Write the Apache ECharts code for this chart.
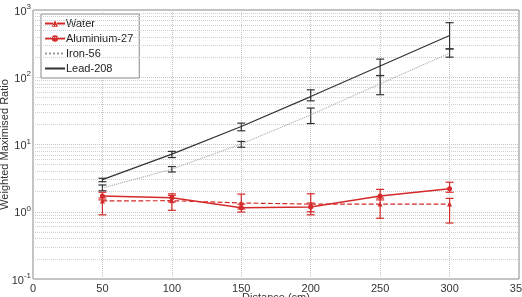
<!DOCTYPE html>
<html>
<head>
<meta charset="utf-8">
<script src="https://cdn.jsdelivr.net/npm/echarts@6/dist/echarts.min.js"></script>
<style>
html, body { margin: 0; padding: 0; background: #fff; }
#main { width: 522px; height: 297px; }
</style>
</head>
<body>
<div id="main"></div>
<script>
var distance = [50, 100, 150, 200, 250, 300];

var water = [1.45, 1.46, 1.35, 1.3, 1.3, 1.3];
var waterLow = [0.9, 1.05, 1.1, 0.9, 0.8, 0.68];
var waterHigh = [1.6, 1.85, 1.83, 1.85, 1.6, 1.58];

var alum = [1.72, 1.62, 1.15, 1.18, 1.72, 2.2];
var alumLow = [1.5, 1.4, 0.99, 1.0, 1.5, 1.95];
var alumHigh = [1.95, 1.75, 1.3, 1.35, 2.15, 2.75];

var iron = [2.25, 4.3, 10.2, 27.6, 80, 228];
var ironLow = [2.05, 3.9, 9.1, 20.5, 55, 199];
var ironHigh = [2.5, 4.7, 11.1, 34.8, 106, 264];

var lead = [3.0, 7.2, 18.5, 51.6, 147, 417];
var leadLow = [2.8, 6.4, 16, 44.6, 106, 264];
var leadHigh = [3.15, 7.9, 20.8, 65, 186, 648];

var yDecades = [0.1, 1, 10, 100, 1000];

var red = '#d42a2a';
var dark = '#333333';

// minor grid values 2..9 x 10^k
var minorVals = [];
for (var k = 0; k < yDecades.length - 1; k++) {
    for (var m = 2; m <= 9; m++) minorVals.push(yDecades[k] * m);
}

function pairs(ys) {
    return distance.map(function (x, i) { return [x, ys[i]]; });
}
function errData(lo, hi) {
    return distance.map(function (x, i) { return [x, lo[i], hi[i]]; });
}
function errSeries(name, lo, hi, color) {
    return {
        name: name,
        type: 'custom',
        data: errData(lo, hi),
        z: 5,
        renderItem: function (params, api) {
            var x = api.value(0);
            var a = api.coord([x, api.value(1)]);
            var b = api.coord([x, api.value(2)]);
            var w = 4;
            var st = { stroke: color, lineWidth: 1.2 };
            return {
                type: 'group',
                children: [
                    { type: 'line', shape: { x1: a[0], y1: a[1], x2: b[0], y2: b[1] }, style: st },
                    { type: 'line', shape: { x1: a[0] - w, y1: a[1], x2: a[0] + w, y2: a[1] }, style: st },
                    { type: 'line', shape: { x1: b[0] - w, y1: b[1], x2: b[0] + w, y2: b[1] }, style: st }
                ]
            };
        }
    };
}

var myChart = echarts.init(document.getElementById('main'));
var option = {
    animation: false,
    textStyle: { fontFamily: 'Liberation Sans' },
    grid: {
        left: 33, right: 3, top: 10, bottom: 18,
        outerBoundsMode: 'none',
        containLabel: false,
        show: true, borderColor: '#888', borderWidth: 1
    },
    legend: {
        orient: 'vertical',
        left: 41,
        top: 14,
        itemGap: 4,
        itemWidth: 20,
        itemHeight: 8,
        padding: [4, 6, 4, 3],
        borderColor: '#888',
        borderWidth: 1,
        backgroundColor: '#fff',
        textStyle: { fontSize: 11, color: '#222', padding: [0, 0, 0, -4] },
        data: [
            'Water',
            'Aluminium-27',
            { name: 'Iron-56', itemStyle: { opacity: 0 } },
            { name: 'Lead-208', itemStyle: { opacity: 0 } }
        ]
    },
    xAxis: {
        type: 'value',
        min: 0,
        max: 350,
        interval: 50,
        name: 'Distance (cm)',
        nameLocation: 'middle',
        nameGap: 13,
        nameMoveOverlap: false,
        nameTextStyle: { fontSize: 11, color: '#333' },
        axisLine: { show: false },
        axisTick: { show: false },
        axisLabel: { fontSize: 11, color: '#333', margin: 4 },
        splitLine: { show: true, lineStyle: { type: 'dotted', color: '#c4c4c4' } }
    },
    yAxis: {
        type: 'log',
        logBase: 10,
        min: 0.1,
        max: 1000,
        name: 'Weighted Maximised Ratio',
        nameLocation: 'middle',
        nameGap: 23,
        nameMoveOverlap: false,
        nameTextStyle: { fontSize: 11, color: '#333' },
        axisLine: { show: false },
        axisTick: { show: false },
        axisLabel: {
            fontSize: 11,
            color: '#333',
            margin: 2,
            formatter: function (v) {
                var e = Math.round(Math.log10(v));
                return '{b|10}{s|' + e + '}';
            },
            rich: {
                b: { fontSize: 11, color: '#333', lineHeight: 14, verticalAlign: 'bottom' },
                s: { fontSize: 8, color: '#333', lineHeight: 14, verticalAlign: 'top', padding: [0, 0, 6, 0] }
            }
        },
        splitLine: { show: true, lineStyle: { type: 'dotted', color: '#c4c4c4' } }
    },
    series: [
        {
            name: 'Water',
            type: 'line',
            data: pairs(water),
            symbol: 'triangle',
            symbolSize: 5,
            itemStyle: { color: red },
            lineStyle: { color: red, width: 1.2, type: 'dashed' },
            z: 6,
            markLine: {
                silent: true,
                symbol: 'none',
                label: { show: false },
                lineStyle: { type: 'dotted', color: '#cfcfcf', width: 1 },
                data: minorVals.map(function (v) { return { yAxis: v }; })
            }
        },
        {
            name: 'Aluminium-27',
            type: 'line',
            data: pairs(alum),
            symbol: 'circle',
            symbolSize: 5,
            itemStyle: { color: red },
            lineStyle: { color: red, width: 1.5 },
            z: 6
        },
        {
            name: 'Iron-56',
            type: 'line',
            data: pairs(iron),
            symbol: 'none',
            itemStyle: { color: '#999' },
            lineStyle: { color: '#999', width: 1, type: 'dotted' },
            z: 6
        },
        {
            name: 'Lead-208',
            type: 'line',
            data: pairs(lead),
            symbol: 'none',
            itemStyle: { color: dark },
            lineStyle: { color: dark, width: 1.2 },
            z: 6
        },
        errSeries('Water', waterLow, waterHigh, red),
        errSeries('Aluminium-27', alumLow, alumHigh, red),
        errSeries('Iron-56', ironLow, ironHigh, dark),
        errSeries('Lead-208', leadLow, leadHigh, dark)
    ]
};
myChart.setOption(option);
</script>
</body>
</html>
